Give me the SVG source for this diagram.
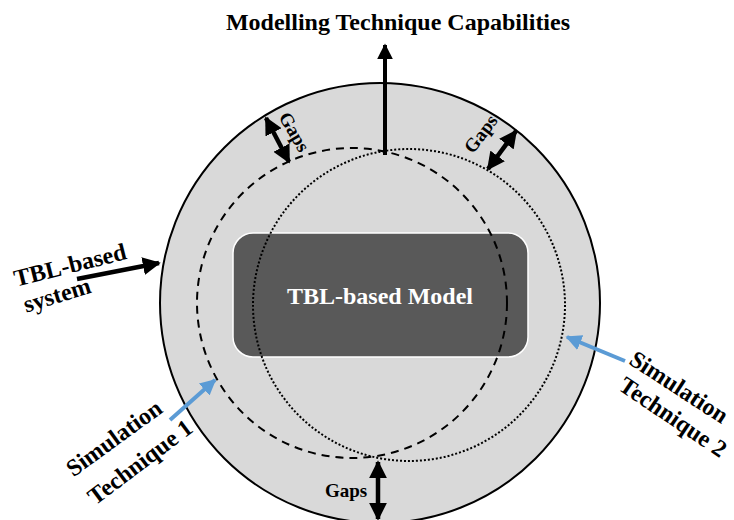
<svg xmlns="http://www.w3.org/2000/svg" width="734" height="520" viewBox="0 0 734 520">
  <style>
    .lbl { font-family: "Liberation Serif", "Times New Roman", serif; font-weight: bold; fill: #000; }
    .ring { fill: none; stroke: #000; }
    .blk { stroke: #000; fill: none; }
    .blue { stroke: #5B9BD5; fill: none; stroke-width: 4; }
  </style>
  <defs>
    <marker id="ah" viewBox="0 0 10 10" refX="9" refY="5" markerWidth="4" markerHeight="4" orient="auto-start-reverse" markerUnits="strokeWidth">
      <path d="M0,0 L10,5 L0,10 Z" fill="#000"/>
    </marker>
    <marker id="ahb" viewBox="0 0 10 10" refX="9" refY="5" markerWidth="4" markerHeight="4" orient="auto" markerUnits="strokeWidth">
      <path d="M0,0 L10,5 L0,10 Z" fill="#5B9BD5"/>
    </marker>
  </defs>

  <rect width="734" height="520" fill="#fff"/>

  <g id="system-circle">
    <circle cx="380" cy="303" r="220" fill="#d9d9d9" stroke="#000" stroke-width="2"/>
  </g>

  <g id="model">
    <rect x="233" y="233" width="295" height="124" rx="20" fill="#595959" stroke="#fff" stroke-width="1.5"/>
    <text class="lbl" x="380" y="304" text-anchor="middle" font-size="24" style="fill:#fff">TBL-based Model</text>
  </g>

  <g id="technique-1">
    <circle class="ring" cx="352" cy="303" r="155" stroke-width="2" stroke-dasharray="8,6"/>
  </g>

  <g id="technique-2">
    <circle class="ring" cx="409" cy="305" r="156" stroke-width="2" stroke-dasharray="2,2"/>
  </g>

  <g id="connectors">
    <line class="blk" x1="385" y1="155" x2="385" y2="45" stroke-width="4" marker-end="url(#ah)"/>
    <line class="blk" x1="266" y1="118" x2="289" y2="162" stroke-width="4.5" marker-start="url(#ah)" marker-end="url(#ah)"/>
    <line class="blk" x1="516" y1="131" x2="488" y2="169" stroke-width="4.5" marker-start="url(#ah)" marker-end="url(#ah)"/>
    <line class="blk" x1="378" y1="462" x2="378" y2="519" stroke-width="4.5" marker-start="url(#ah)" marker-end="url(#ah)"/>
    <line class="blk" x1="77" y1="279" x2="159" y2="263" stroke-width="4.5" marker-end="url(#ah)"/>
    <line class="blue" x1="170" y1="420" x2="215" y2="380" marker-end="url(#ahb)"/>
    <line class="blue" x1="625" y1="361" x2="567" y2="337" marker-end="url(#ahb)"/>
  </g>

  <g id="labels">
    <text class="lbl" x="398" y="30" text-anchor="middle" font-size="24">Modelling Technique Capabilities</text>
    <text class="lbl" transform="translate(294,132) rotate(60)" text-anchor="middle" font-size="19" dy="6">Gaps</text>
    <text class="lbl" transform="translate(481,134) rotate(-53)" text-anchor="middle" font-size="19" dy="6">Gaps</text>
    <text class="lbl" x="346" y="497" text-anchor="middle" font-size="19">Gaps</text>
    <text class="lbl" transform="translate(70,265) rotate(-14)" text-anchor="middle" font-size="24" dy="8">TBL-based</text>
    <text class="lbl" transform="translate(57,295) rotate(-17)" text-anchor="middle" font-size="24" dy="8">system</text>
    <text class="lbl" transform="translate(114,438) rotate(-36)" text-anchor="middle" font-size="24" dy="8">Simulation</text>
    <text class="lbl" transform="translate(140,462) rotate(-37)" text-anchor="middle" font-size="24" dy="8">Technique 1</text>
    <text class="lbl" transform="translate(679,387) rotate(33)" text-anchor="middle" font-size="24" dy="8">Simulation</text>
    <text class="lbl" transform="translate(673,417) rotate(34)" text-anchor="middle" font-size="24" dy="8">Technique 2</text>
  </g>
</svg>
